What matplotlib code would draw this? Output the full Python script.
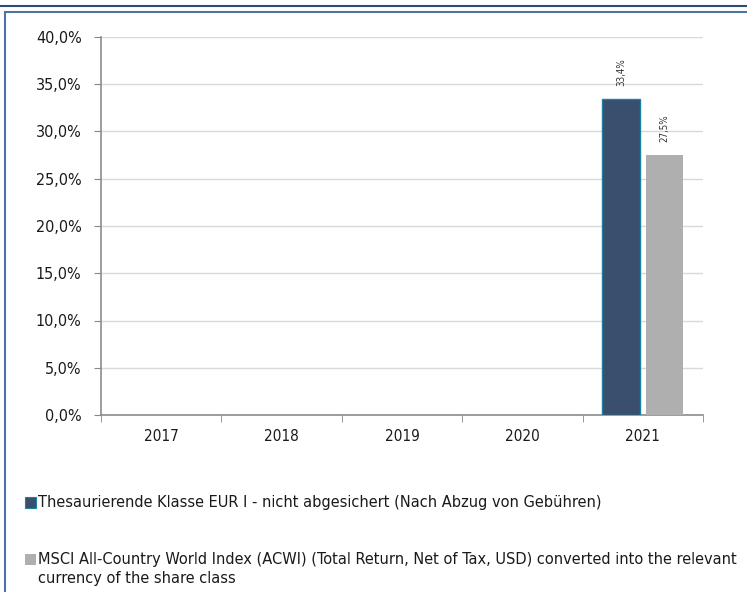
import matplotlib.pyplot as plt
import numpy as np
from matplotlib.patches import Rectangle
from matplotlib.lines import Line2D

plt.rcParams['font.family'] = ['DejaVu Sans']
plt.rcParams['font.stretch'] = 'condensed'

years = ['2017', '2018', '2019', '2020', '2021']
fund = [np.nan, np.nan, np.nan, np.nan, 33.4]
index = [np.nan, np.nan, np.nan, np.nan, 27.5]
fund_label = 'Thesaurierende Klasse EUR I - nicht abgesichert (Nach Abzug von Gebühren)'
index_label = ('MSCI All-Country World Index (ACWI) (Total Return, Net of Tax, USD) converted into the relevant\n'
               'currency of the share class')

fund_color = '#394f6d'
index_color = '#afafaf'
text_color = '#1a1a1a'

fig = plt.figure(figsize=(7.47, 5.92), dpi=100)
ax = fig.add_axes([101 / 747, 1 - 415 / 592, 602 / 747, 378 / 592])

x = np.arange(len(years))
ax.bar(x - 0.18, fund, width=0.32, color=fund_color, edgecolor='#1f7fa3', linewidth=1, zorder=3)
ax.bar(x + 0.18, index, width=0.31, color=index_color, zorder=3)

for xi, v in zip(x, fund):
    if not np.isnan(v):
        ax.text(xi - 0.18, v + 1.4, f'{v:.1f}%'.replace('.', ','), rotation=90,
                ha='center', va='bottom', fontsize=7, color='#333333')
for xi, v in zip(x, index):
    if not np.isnan(v):
        ax.text(xi + 0.18, v + 1.4, f'{v:.1f}%'.replace('.', ','), rotation=90,
                ha='center', va='bottom', fontsize=7, color='#333333')

ax.set_xlim(-0.5, len(years) - 0.5)
ax.set_ylim(0, 40)
ax.set_yticks(np.arange(0, 41, 5))
ax.set_yticklabels([f'{v:.1f}%'.replace('.', ',') for v in np.arange(0, 41, 5)], fontsize=11.5, color=text_color)
ax.yaxis.grid(True, color='#d9d9d9', linewidth=1, zorder=0)
ax.set_axisbelow(True)

ax.set_xticks(x)
ax.set_xticklabels(years, fontsize=11, color=text_color)
ax.set_xticks(np.arange(-0.5, len(years)), minor=True)
ax.tick_params(axis='x', which='major', length=0, pad=10)
ax.tick_params(axis='x', which='minor', length=5, color='#888888', direction='out')
ax.tick_params(axis='y', length=5, color='#888888', pad=9)

for s in ['top', 'right']:
    ax.spines[s].set_visible(False)
for s in ['left', 'bottom']:
    ax.spines[s].set_color('#8c8c8c')
    ax.spines[s].set_linewidth(1.2)

# legend
fig.text(38 / 747, 1 - 503 / 592, fund_label, fontsize=11.7, va='center', ha='left', color=text_color)
fig.patches.append(Rectangle((25 / 747, 1 - 508 / 592), 11 / 747, 11 / 592, transform=fig.transFigure,
                             facecolor=fund_color, edgecolor='#1f7fa3', linewidth=0.8, figure=fig))
fig.text(38 / 747, 1 - 552 / 592, index_label, fontsize=11.7, va='top', ha='left', color=text_color,
         linespacing=1.3)
fig.patches.append(Rectangle((25 / 747, 1 - 565 / 592), 11 / 747, 11 / 592, transform=fig.transFigure,
                             facecolor=index_color, edgecolor='none', figure=fig))

# frame
fig.lines.append(Line2D([0, 1], [1 - 6 / 592, 1 - 6 / 592], transform=fig.transFigure,
                        color='#2e4a78', linewidth=1.5, figure=fig))
fig.patches.append(Rectangle((5 / 747, -0.01), 1.0, 1 - 12 / 592 + 0.01, transform=fig.transFigure,
                             facecolor='none', edgecolor='#4f73a3', linewidth=1.5, figure=fig))

fig.savefig('out.png', dpi=100)
